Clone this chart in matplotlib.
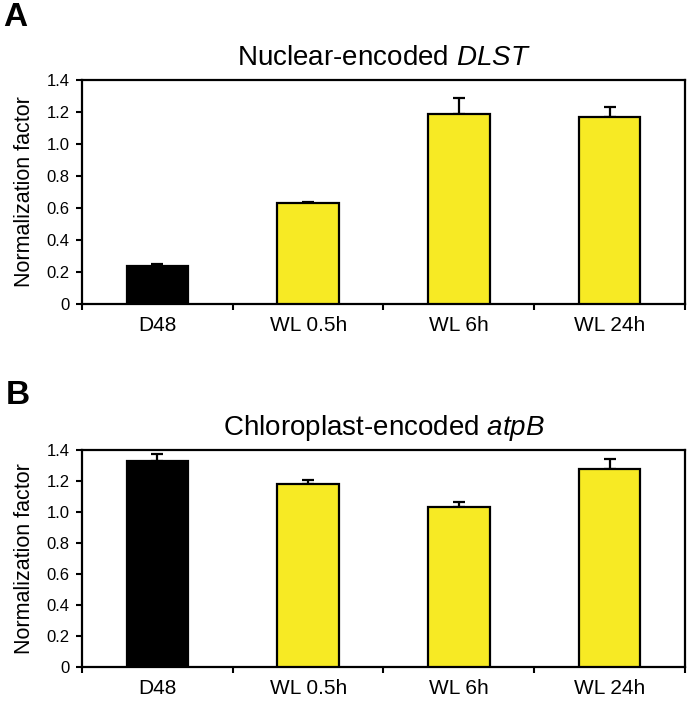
import matplotlib
matplotlib.use("Agg")
import matplotlib.pyplot as plt
import numpy as np

plt.rcParams['font.family'] = ['Liberation Sans', 'DejaVu Sans']
plt.rcParams['mathtext.fontset'] = 'custom'
plt.rcParams['mathtext.rm'] = 'Liberation Sans'
plt.rcParams['mathtext.it'] = 'Liberation Sans:italic'

# data
labels = ["D48", "WL 0.5h", "WL 6h", "WL 24h"]
dlst = [0.24, 0.633, 1.19, 1.17]
dlst_err = [0.008, 0.005, 0.095, 0.06]
atpb = [1.33, 1.18, 1.034, 1.277]
atpb_err = [0.042, 0.024, 0.03, 0.065]
colors = ["black", "#F7EA24", "#F7EA24", "#F7EA24"]

fig = plt.figure(figsize=(6.96, 7.02), dpi=100)
axA = fig.add_axes([0.118, 0.567, 0.866, 0.319])
axB = fig.add_axes([0.118, 0.050, 0.866, 0.309])

def draw(ax, vals, errs, title_plain, title_it):
    x = np.arange(len(labels))
    ax.bar(x, vals, width=0.41, color=colors, edgecolor="black", linewidth=1.6, zorder=3)
    ax.errorbar(x, vals, yerr=[np.zeros(len(errs)), errs], fmt="none",
                ecolor="black", elinewidth=1.6, capsize=4, capthick=1.6, zorder=2)
    ax.set_xlim(-0.5, 3.5)
    ax.set_ylim(0, 1.4)
    ax.set_yticks(np.arange(0, 1.41, 0.2))
    ax.set_yticklabels(["0"] + ["%.1f" % v for v in np.arange(0.2, 1.41, 0.2)], fontsize=12)
    ax.set_xticks(x)
    ax.set_xticklabels(labels, fontsize=15)
    ax.set_xticks(np.arange(-0.5, 3.6, 1), minor=True)
    ax.tick_params(axis="x", which="major", length=0, pad=9)
    ax.tick_params(axis="x", which="minor", length=4, width=1.5)
    ax.tick_params(axis="y", length=4, width=1.5, pad=5)
    for s in ax.spines.values():
        s.set_linewidth(1.6)
    ax.set_ylabel("Normalization factor", fontsize=15.5, labelpad=8)
    ax.set_title(title_plain + r" $\it{" + title_it + "}$", fontsize=20, pad=11)

draw(axA, dlst, dlst_err, "Nuclear-encoded", "DLST")
draw(axB, atpb, atpb_err, "Chloroplast-encoded", "atpB")

fig.text(0.005, 0.975, "A", fontsize=24, fontweight="bold", va="center")
fig.text(0.008, 0.436, "B", fontsize=24, fontweight="bold", va="center")

fig.savefig("out.png", dpi=100)
